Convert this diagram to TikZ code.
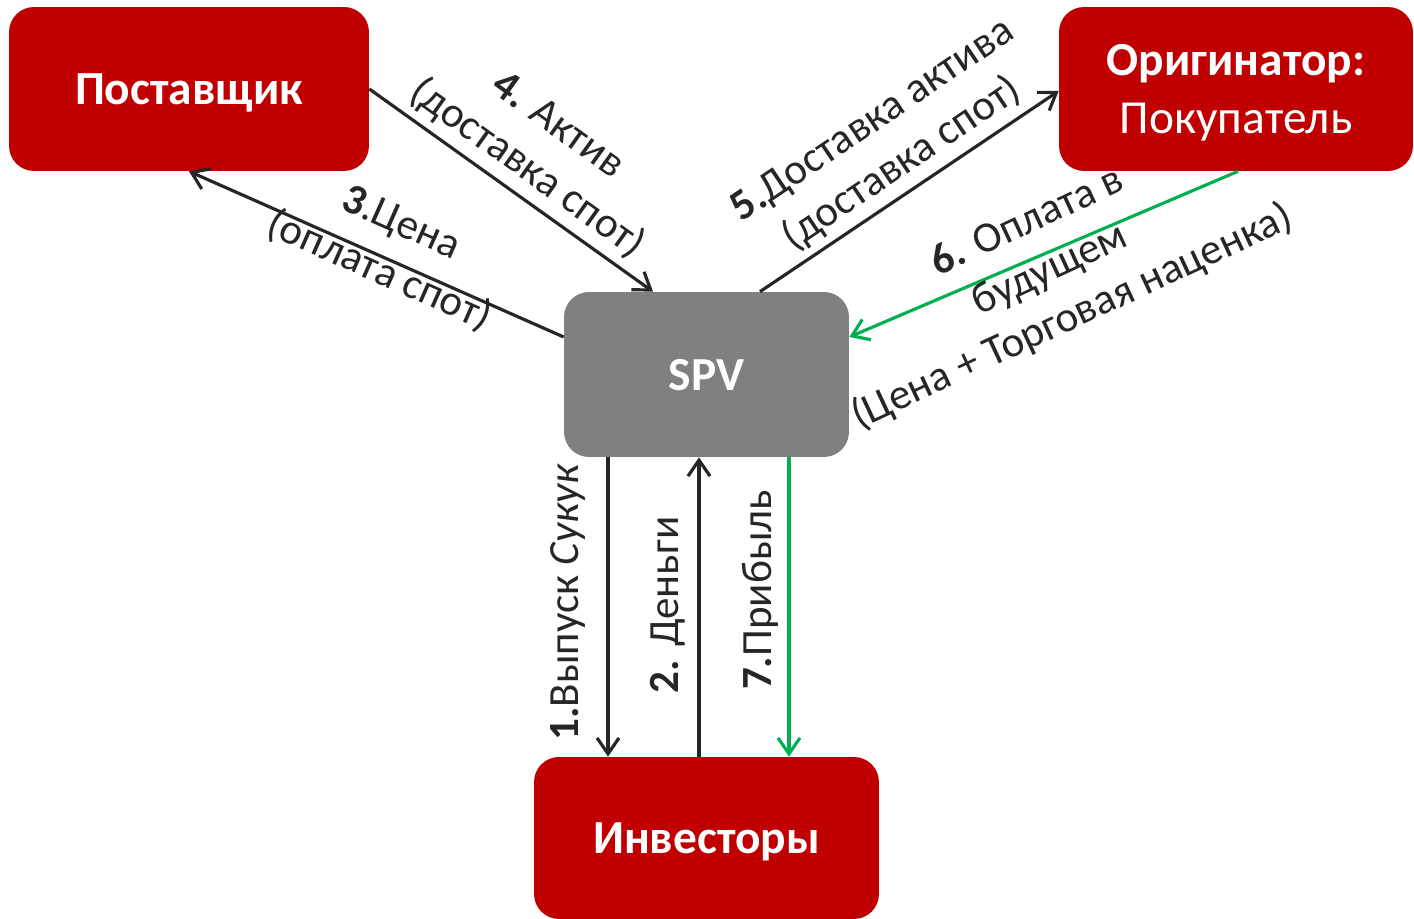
\documentclass[tikz,border=0pt]{standalone}
\usepackage{fontspec}
\setmainfont{Carlito}
\usetikzlibrary{positioning}
\usetikzlibrary{arrows.meta}
\definecolor{boxred}{RGB}{192,0,0}
\definecolor{boxgray}{RGB}{128,128,128}
\definecolor{flowgreen}{RGB}{0,176,80}
\definecolor{linedark}{RGB}{38,38,38}
\tikzset{block/.style={text centered, rounded corners=0.5cm, text=white, text depth=0pt, font=\fontsize{27}{33}\selectfont\bfseries}}
\tikzset{connect/.style={draw=linedark, line width=1.8pt}}
\tikzset{money/.style={draw=flowgreen, line width=1.8pt}}
\tikzset{lbl/.style={text=linedark, align=center, font=\fontsize{24.5}{30}\selectfont}}

\begin{document}
\begin{tikzpicture}[x=0.02cm,y=0.02cm,>={Straight Barb[length=3.2mm,width=4.4mm]}]
\useasboundingbox (0,0) rectangle (1414,919);

%blocks
\node[block,fill=boxred,minimum width=7.2cm,minimum height=3.28cm] (supplier) at (189,830) {Поставщик};
\node[block,fill=boxred,minimum width=7.08cm,minimum height=3.28cm,align=center] (originator) at (1236,830) {Оригинатор:\\\mdseries Покупатель};
\node[block,fill=boxgray,minimum width=5.7cm,minimum height=3.3cm] (spv) at (706.5,544.5) {SPV};
\node[block,fill=boxred,minimum width=6.9cm,minimum height=3.24cm] (investors) at (706.5,81) {Инвесторы};

%supplier
\path[connect,->] ([yshift=0.75cm]spv.west) -- (supplier.south);
\path[connect,->] (supplier.east) -- ([xshift=-1.07cm]spv.north);
\node[lbl,rotate=-24] (price) at (390,671) {\textbf{3}.Цена\\(оплата спот)};
\node[lbl,rotate=-35.6] (asset) at (542,771) {\textbf{4.} Актив\\(доставка спот)};

%originator
\path[connect,->] ([xshift=1.07cm]spv.north) -- ([yshift=-0.04cm]originator.west);
\path[money,->] ([xshift=0.04cm]originator.south) -- ([yshift=0.75cm]spv.east);
\node[lbl,rotate=34] (delivery) at (888,776) {\textbf{5.}Доставка актива\\(доставка спот)};
\node[lbl,rotate=25] (payment) at (1050,649) {\textbf{6.} Оплата в\\будущем\\(Цена + Торговая наценка)};

%investors
\path[connect,->] ([xshift=-1.97cm]spv.south) -- ([xshift=-1.97cm]investors.north);
\path[connect,<-] ([xshift=-0.15cm]spv.south) -- ([xshift=-0.15cm]investors.north);
\path[money,->] ([xshift=1.65cm]spv.south) -- ([xshift=1.65cm]investors.north);
\node[lbl,rotate=90] (sukuk) at (568,317) {\textbf{1.}Выпуск \textit{Сукук}};
\node[lbl,rotate=90] (cash) at (668,314) {\textbf{2.} Деньги};
\node[lbl,rotate=90] (profit) at (760,329) {\textbf{7.}Прибыль};

\end{tikzpicture}
\end{document}
